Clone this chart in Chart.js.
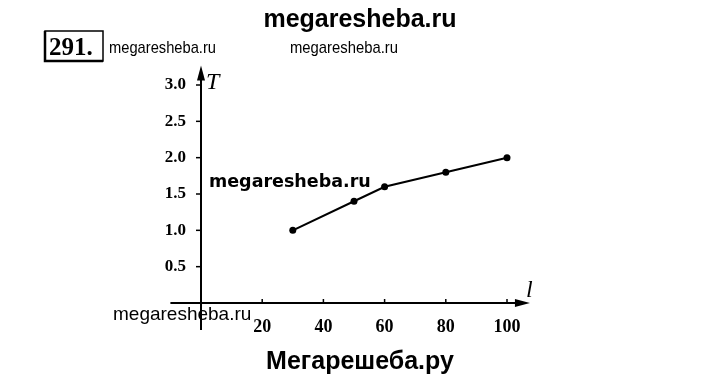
<!DOCTYPE html>
<html>
<head>
<meta charset="utf-8">
<script src="https://cdn.jsdelivr.net/npm/chart.js@4.4.1/dist/chart.umd.min.js"></script>
<style>
  html, body { margin: 0; padding: 0; background: #fff; }
  #wrap { width: 720px; height: 376px; }
</style>
</head>
<body>
<div id="wrap"><canvas id="chart" width="720" height="376"></canvas></div>
<script>
// Pendulum length l (cm) and period T (s)
const lengths = [30, 50, 60, 80, 100];
const periods = [1.0, 1.4, 1.6, 1.8, 2.0];

// Tick values shown on the axes
const xTicks = [20, 40, 60, 80, 100];
const yTicks = [0.5, 1.0, 1.5, 2.0, 2.5, 3.0];

// Draw text squeezed to a given width (narrow watermark font)
function narrowText(ctx, text, x, y, width) {
    const w = ctx.measureText(text).width;
    ctx.save();
    ctx.translate(x, y);
    ctx.scale(width / w, 1);
    ctx.fillText(text, 0, 0);
    ctx.restore();
}

// Draw axes with arrows, tick marks, axis letters and page texts
const axesPlugin = {
    id: 'axesPlugin',
    afterDraw(chart) {
        const ctx = chart.ctx;
        const xs = chart.scales.x;
        const ys = chart.scales.y;
        const x0 = xs.getPixelForValue(0);
        const y0 = ys.getPixelForValue(0);

        ctx.save();
        ctx.strokeStyle = '#000';
        ctx.fillStyle = '#000';
        ctx.lineWidth = 2;

        // y axis
        const yTop = ys.getPixelForValue(3.27);
        ctx.beginPath();
        ctx.moveTo(x0, ys.getPixelForValue(-0.37));
        ctx.lineTo(x0, yTop + 8);
        ctx.stroke();
        ctx.beginPath();
        ctx.moveTo(x0, yTop);
        ctx.lineTo(x0 - 4, yTop + 15);
        ctx.lineTo(x0 + 4, yTop + 15);
        ctx.closePath();
        ctx.fill();

        // x axis
        const xEnd = xs.getPixelForValue(107.5);
        ctx.beginPath();
        ctx.moveTo(xs.getPixelForValue(-10), y0);
        ctx.lineTo(xEnd - 8, y0);
        ctx.stroke();
        ctx.beginPath();
        ctx.moveTo(xEnd, y0);
        ctx.lineTo(xEnd - 15, y0 - 4);
        ctx.lineTo(xEnd - 15, y0 + 4);
        ctx.closePath();
        ctx.fill();

        // tick marks
        ctx.lineWidth = 1.5;
        yTicks.forEach(v => {
            const p = ys.getPixelForValue(v);
            ctx.beginPath();
            ctx.moveTo(x0 - 5, p);
            ctx.lineTo(x0, p);
            ctx.stroke();
        });
        xTicks.forEach(v => {
            const p = xs.getPixelForValue(v);
            ctx.beginPath();
            ctx.moveTo(p, y0 - 4);
            ctx.lineTo(p, y0);
            ctx.stroke();
        });

        // axis letters
        ctx.font = 'italic 24px "Liberation Serif", serif';
        ctx.textAlign = 'left';
        ctx.textBaseline = 'alphabetic';
        ctx.fillText('T', x0 + 5, yTop + 24);
        ctx.fillText('l', xEnd - 4, y0 - 6);

        // page texts
        ctx.font = 'bold 25px "Liberation Sans", Arial, sans-serif';
        ctx.textAlign = 'center';
        ctx.fillText('megaresheba.ru', 360, 27);
        ctx.fillText('Мегарешеба.ру', 360, 369);

        // problem number box
        ctx.lineWidth = 1.5;
        ctx.strokeRect(45, 31, 58, 30);
        ctx.lineWidth = 2.5;
        ctx.beginPath();
        ctx.moveTo(45, 31);
        ctx.lineTo(45, 61);
        ctx.lineTo(103, 61);
        ctx.stroke();
        ctx.font = 'bold 25px "Liberation Serif", serif';
        ctx.textAlign = 'left';
        ctx.fillText('291.', 49, 55);

        // small watermarks
        ctx.font = '17px "Liberation Sans", sans-serif';
        narrowText(ctx, 'megaresheba.ru', 109, 53, 107);
        narrowText(ctx, 'megaresheba.ru', 290, 53, 108);
        ctx.font = '19px "Liberation Sans", Arial, sans-serif';
        ctx.fillText('megaresheba.ru', 113, 320);
        ctx.font = 'bold 17.5px "DejaVu Sans", Verdana, sans-serif';
        ctx.fillText('megaresheba.ru', 209, 187);
        ctx.restore();
    }
};

const chart = new Chart(document.getElementById('chart').getContext('2d'), {
    type: 'line',
    data: {
        datasets: [{
            data: lengths.map((l, i) => ({ x: l, y: periods[i] })),
            borderColor: '#000',
            backgroundColor: '#000',
            borderWidth: 2,
            pointRadius: 3.5,
            pointBackgroundColor: '#000',
            pointBorderWidth: 0,
            tension: 0,
            clip: false
        }]
    },
    options: {
        responsive: false,
        animation: false,
        events: [],
        layout: { padding: { left: 0, right: 213, top: 85, bottom: 0 } },
        plugins: {
            legend: { display: false },
            tooltip: { enabled: false }
        },
        scales: {
            x: {
                type: 'linear',
                min: 0,
                max: 100,
                afterBuildTicks: (scale) => { scale.ticks = xTicks.map(v => ({ value: v })); },
                afterFit: (scale) => { scale.height = 73; },
                grid: { display: false, drawTicks: false },
                border: { display: false },
                ticks: {
                    padding: 14,
                    color: '#000',
                    font: { family: '"Liberation Serif", serif', size: 18, weight: 'bold' },
                    maxRotation: 0,
                    autoSkip: false
                }
            },
            y: {
                min: 0,
                max: 3,
                afterBuildTicks: (scale) => { scale.ticks = yTicks.map(v => ({ value: v })); },
                afterFit: (scale) => { scale.width = 201; },
                grid: { display: false, drawTicks: false },
                border: { display: false },
                ticks: {
                    padding: 15,
                    color: '#000',
                    font: { family: '"Liberation Serif", serif', size: 17, weight: 'bold' },
                    callback: (v) => Number(v).toFixed(1),
                    autoSkip: false
                }
            }
        }
    },
    plugins: [axesPlugin]
});
</script>
</body>
</html>
